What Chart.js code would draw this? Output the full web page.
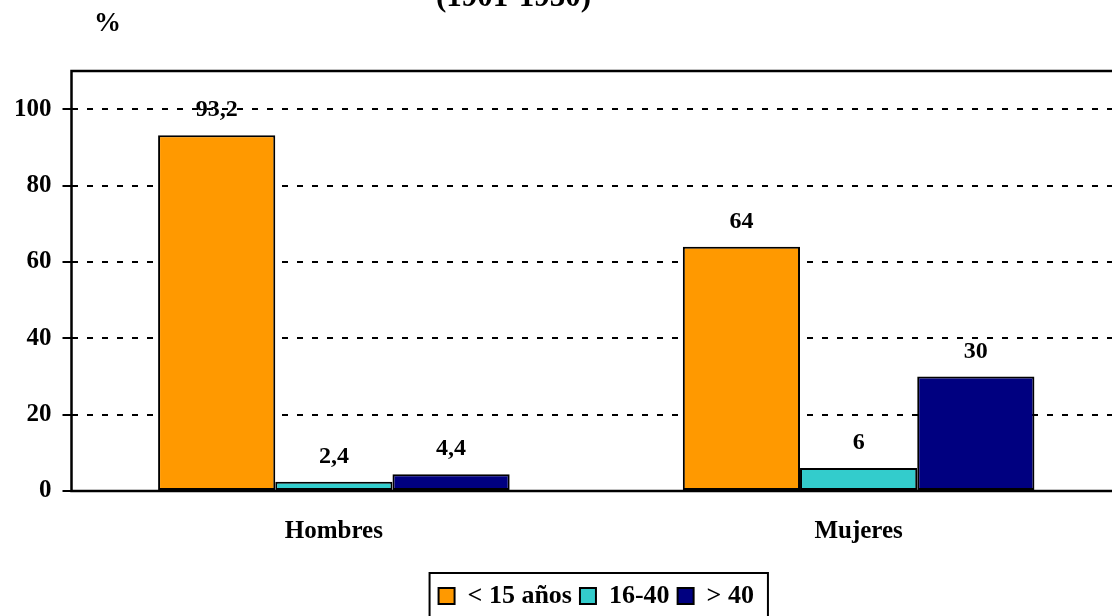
<!DOCTYPE html>
<html>
<head>
<meta charset="utf-8">
<script src="https://cdn.jsdelivr.net/npm/chart.js@4"></script>
<style>
    html, body { margin: 0; padding: 0; overflow: hidden; background: #fff; }
    #wrap { position: absolute; left: 0; top: 0; }
</style>
</head>
<body>
<div id="wrap"><canvas id="myChart" width="1140" height="640"></canvas></div>
<script>
const categories = ['Hombres', 'Mujeres'];
const seriesNames = ['< 15 años', '16-40', '> 40'];
const under15 = [93.2, 64];
const from16to40 = [2.4, 6];
const over40 = [4.4, 30];
const yTicks = [0, 20, 40, 60, 80, 100];

const colors = ['#FF9900', '#33CCCC', '#000080'];
const serif = "'Liberation Serif', 'Times New Roman', serif";

function makeSet(label, values, color) {
    return {
        label: label,
        data: values,
        backgroundColor: color,
        borderColor: '#000',
        borderWidth: 2,
        borderSkipped: false,
        categoryPercentage: 0.67,
        barPercentage: 1.0
    };
}

let data = {
    labels: categories,
    datasets: [
        makeSet(seriesNames[0], under15, colors[0]),
        makeSet(seriesNames[1], from16to40, colors[1]),
        makeSet(seriesNames[2], over40, colors[2])
    ]
};

// values above the bars, comma as decimal mark
const valueLabels = {
    id: 'valueLabels',
    afterDatasetsDraw(chart) {
        const ctx = chart.ctx;
        ctx.save();
        ctx.font = 'bold 24px ' + serif;
        ctx.fillStyle = '#000';
        ctx.textAlign = 'center';
        ctx.textBaseline = 'middle';
        chart.data.datasets.forEach((ds, i) => {
            chart.getDatasetMeta(i).data.forEach((bar, j) => {
                ctx.fillText(String(ds.data[j]).replace('.', ','), bar.x, bar.y - 25);
            });
        });
        ctx.restore();
    }
};

// solid frame round the plot, the title (cut at the top), the "%" unit and the legend box
const frame = {
    id: 'frame',
    afterDraw(chart) {
        const ctx = chart.ctx;
        const a = chart.chartArea;
        ctx.save();
        ctx.strokeStyle = '#000';
        ctx.lineWidth = 2.5;
        ctx.strokeRect(a.left, a.top, a.right - a.left, a.bottom - a.top);

        ctx.fillStyle = '#000';
        ctx.textAlign = 'center';
        ctx.textBaseline = 'alphabetic';
        ctx.font = 'bold 31px ' + serif;
        ctx.fillText('(1901-1930)', a.left + 442, a.top - 65);

        ctx.textBaseline = 'middle';
        ctx.font = 'bold 27px ' + serif;
        ctx.fillText('%', a.left + 36, a.top - 47);

        const items = chart.legend.legendHitBoxes;
        if (items && items.length) {
            const last = items[items.length - 1];
            const l = items[0].left - 9;
            const r = last.left + last.width + 14;
            const t = items[0].top - 10;
            const b = items[0].top + items[0].height + 40;
            ctx.lineWidth = 2;
            ctx.strokeRect(l, t, r - l, b - t);
        }
        ctx.restore();
    }
};

let config = {
    type: 'bar',
    data: data,
    options: {
        responsive: false,
        animation: false,
        layout: {
            padding: { left: 3, right: 19, top: 71, bottom: 21 }
        },
        scales: {
            x: {
                grid: { display: false },
                border: { display: false },
                afterFit: axis => { axis.height += 10; },
                ticks: {
                    color: '#000',
                    padding: 18,
                    font: { family: serif, size: 25, weight: 'bold' }
                }
            },
            y: {
                min: 0,
                max: 110,
                afterBuildTicks: axis => {
                    axis.ticks = yTicks.map(v => ({ value: v }));
                },
                grid: {
                    color: '#000',
                    lineWidth: 2,
                    tickLength: 9,
                    tickColor: '#000',
                    tickWidth: 2
                },
                border: { display: false, dash: [6, 9] },
                ticks: {
                    color: '#000',
                    padding: 11,
                    font: { family: serif, size: 25, weight: 'bold' }
                }
            }
        },
        plugins: {
            legend: {
                position: 'bottom',
                fullSize: false,
                labels: {
                    color: '#000',
                    boxWidth: 16,
                    boxHeight: 16,
                    padding: 8,
                    font: { family: serif, size: 26, weight: 'bold' }
                }
            },
            tooltip: { enabled: false }
        }
    },
    plugins: [valueLabels, frame]
};

let myChart = new Chart(
    document.getElementById('myChart'),
    config,
);
</script>
</body>
</html>
